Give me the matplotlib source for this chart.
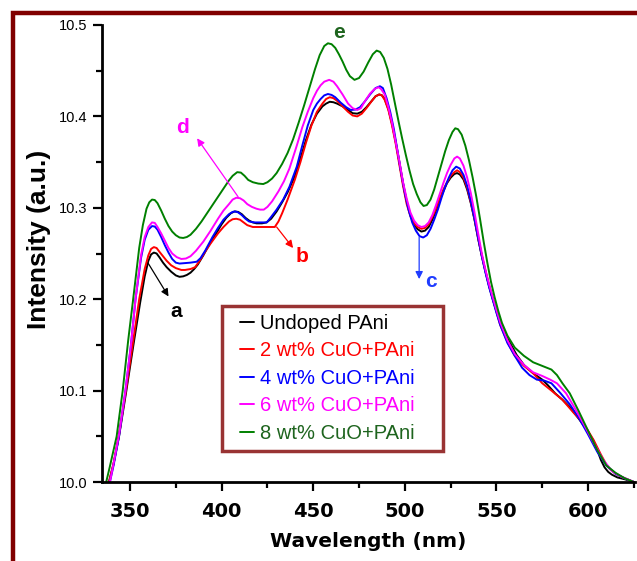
import matplotlib
matplotlib.use('Agg')
import matplotlib.pyplot as plt
from matplotlib.legend_handler import HandlerLine2D
from matplotlib.patches import Rectangle
from matplotlib.ticker import MultipleLocator

# ---------------- data ----------------
wl_undoped = [338.5, 341, 344, 348, 352, 355.5, 358, 360, 361.5, 363, 364.5, 366, 368, 370, 372.5,
              375, 377, 379, 381, 383, 385, 387, 390, 393, 397, 400, 402.5, 405, 407, 409, 411,
              413, 415, 417, 419, 422, 424.5, 427, 430, 433, 436, 440, 443, 446, 449, 452, 455,
              457, 459, 461, 463, 466, 469, 471.5, 474, 476.5, 479, 481.5, 484, 486, 487.5, 489,
              491, 493, 495, 497, 499, 501, 503, 505, 507, 509, 511, 513, 515, 517, 519, 521, 523,
              525, 527, 528.5, 530, 532, 534, 536, 538, 540, 542, 544, 546, 548, 550, 552, 556,
              561, 565, 570, 575, 578, 582, 586, 590, 595, 600, 603, 605, 607, 609, 611, 613, 616,
              620, 625]
int_undoped = [10.0, 10.02, 10.05, 10.10, 10.152, 10.196, 10.225, 10.242, 10.249, 10.251, 10.250,
               10.246, 10.240, 10.235, 10.230, 10.226, 10.2245, 10.225, 10.2265, 10.229, 10.233,
               10.238, 10.248, 10.259, 10.272, 10.282, 10.289, 10.294, 10.296, 10.2955, 10.293,
               10.289, 10.286, 10.284, 10.283, 10.283, 10.284, 10.288, 10.296, 10.306, 10.317,
               10.335, 10.354, 10.374, 10.391, 10.403, 10.411, 10.414, 10.416, 10.4155, 10.414,
               10.411, 10.407, 10.4035, 10.403, 10.405, 10.41, 10.416, 10.422, 10.424, 10.423,
               10.419, 10.408, 10.392, 10.372, 10.35, 10.327, 10.307, 10.292, 10.282, 10.2765,
               10.274, 10.275, 10.279, 10.287, 10.297, 10.308, 10.318, 10.327, 10.333, 10.337,
               10.338, 10.3365, 10.331, 10.32, 10.305, 10.287, 10.266, 10.247, 10.23, 10.214,
               10.200, 10.187, 10.175, 10.157, 10.139, 10.128, 10.119, 10.112, 10.106, 10.097,
               10.09, 10.082, 10.069, 10.055, 10.045, 10.035, 10.024, 10.016, 10.011, 10.008,
               10.005, 10.003, 10.0]

wl_cuo2 = [338.5, 341, 344, 348, 352, 355, 358, 360, 361.5, 363, 364.5, 366, 368, 370, 372.5, 375,
           378, 380, 383, 385.5, 388, 391, 394, 398, 401, 404, 406, 408, 410, 412, 414, 417, 421,
           425, 429, 431, 433, 436, 440, 443, 446, 449, 452, 455, 457, 459, 461, 463, 466, 469,
           471.5, 474, 476.5, 479, 482, 484, 486, 487.5, 489, 491, 493, 495, 497, 499, 501, 503,
           505, 507, 509, 511, 513, 515, 517, 519, 521, 523, 525, 527, 528.5, 530, 532, 534, 536,
           538, 540, 542, 544, 546, 548, 550, 552, 556, 560, 565, 570, 575, 580, 586, 592, 597.5,
           600, 603, 607, 610, 612, 615, 619, 625]
int_cuo2 = [10.0, 10.02, 10.052, 10.103, 10.158, 10.2, 10.233, 10.248, 10.255, 10.257, 10.256,
            10.252, 10.247, 10.242, 10.237, 10.234, 10.232, 10.232, 10.233, 10.235, 10.242,
            10.252, 10.261, 10.272, 10.279, 10.285, 10.2875, 10.288, 10.287, 10.284, 10.281,
            10.279, 10.279, 10.279, 10.279, 10.285, 10.294, 10.309, 10.331, 10.35, 10.371, 10.39,
            10.405, 10.414, 10.419, 10.421, 10.420, 10.417, 10.411, 10.405, 10.401, 10.400,
            10.403, 10.409, 10.417, 10.422, 10.424, 10.423, 10.418, 10.407, 10.39, 10.37, 10.347,
            10.324, 10.304, 10.291, 10.283, 10.279, 10.277, 10.278, 10.282, 10.29, 10.299, 10.31,
            10.32, 10.328, 10.335, 10.339, 10.341, 10.339, 10.333, 10.322, 10.306, 10.288,
            10.267, 10.248, 10.231, 10.215, 10.2, 10.186, 10.172, 10.153, 10.138, 10.127, 10.119,
            10.108, 10.1, 10.09, 10.076, 10.064, 10.056, 10.046, 10.03, 10.019, 10.014, 10.009,
            10.005, 10.0]

wl_cuo4 = [339, 341, 344, 347.5, 350.5, 353, 356, 358, 360, 362, 363.5, 365, 367, 369, 371, 373,
           375, 377, 380, 383, 386.4, 388.5, 391, 395, 398, 401, 404, 406, 407.5, 409, 411, 413,
           415, 418, 421, 424.6, 427, 430, 433.6, 437, 441, 444, 447, 450, 452, 454, 456, 458,
           460, 462, 465, 468, 470.5, 473, 475.5, 478, 481, 484, 486.4, 488, 490, 492, 494, 496,
           498, 500, 502, 504, 506, 508, 510, 512, 514, 516, 518, 520, 522, 524, 526, 528, 530,
           532, 534, 536, 538, 540, 542, 544, 546, 548, 550, 552, 556, 560, 564, 568, 572, 576,
           580, 585, 590, 595, 600, 605, 610, 615, 620, 625]
int_cuo4 = [10.0, 10.018, 10.05, 10.1, 10.15, 10.2, 10.245, 10.265, 10.276, 10.28, 10.2795, 10.276,
            10.268, 10.259, 10.251, 10.244, 10.240, 10.239, 10.2395, 10.240, 10.241, 10.245,
            10.253, 10.268, 10.278, 10.287, 10.293, 10.2955, 10.296, 10.295, 10.292, 10.288,
            10.285, 10.284, 10.284, 10.284, 10.29, 10.298, 10.309, 10.323, 10.345, 10.368, 10.39,
            10.407, 10.414, 10.419, 10.423, 10.4245, 10.4235, 10.421, 10.415, 10.41, 10.407,
            10.4075, 10.41, 10.416, 10.424, 10.431, 10.433, 10.431, 10.42, 10.405, 10.386,
            10.362, 10.338, 10.316, 10.298, 10.284, 10.275, 10.269, 10.2675, 10.27, 10.277,
            10.287, 10.298, 10.311, 10.323, 10.333, 10.341, 10.345, 10.343, 10.336, 10.324,
            10.307, 10.288, 10.267, 10.247, 10.229, 10.213, 10.199, 10.185, 10.172, 10.152,
            10.138, 10.125, 10.117, 10.112, 10.111, 10.108, 10.097, 10.085, 10.07, 10.052,
            10.033, 10.018, 10.009, 10.004, 10.0]

wl_cuo6 = [339, 341, 344, 347.5, 350.5, 353, 356, 358, 360, 362, 363.5, 365, 367, 369, 371, 373,
           375.5, 378, 380.5, 383, 386, 390, 394, 398, 401, 404, 406, 408, 410, 412, 414, 416.5,
           419, 421, 423, 425, 427.5, 431, 434, 437, 441, 444, 447, 450, 452, 454, 456, 458.7,
           461, 463, 466, 469, 471.5, 474, 476, 478, 481, 483.5, 485.5, 487, 489, 491, 493, 495,
           497, 499, 501, 503, 505, 507, 509, 511, 513, 515, 517, 519, 521, 523, 525, 527, 528.5,
           530, 532, 534, 536, 538, 540, 542, 544, 546, 548, 550, 552, 556, 560, 565, 570, 575,
           579.3, 583, 588, 593, 598, 603, 608, 613, 618, 625]
int_cuo6 = [10.0, 10.02, 10.052, 10.1, 10.15, 10.2, 10.248, 10.268, 10.279, 10.284, 10.2835, 10.279,
            10.272, 10.264, 10.256, 10.25, 10.246, 10.244, 10.2445, 10.247, 10.253, 10.263,
            10.275, 10.288, 10.297, 10.304, 10.309, 10.311, 10.3105, 10.308, 10.304, 10.301,
            10.299, 10.298, 10.298, 10.301, 10.307, 10.318, 10.329, 10.343, 10.368, 10.388,
            10.405, 10.42, 10.428, 10.434, 10.438, 10.44, 10.438, 10.433, 10.424, 10.414, 10.409,
            10.407, 10.409, 10.416, 10.425, 10.43, 10.432, 10.43, 10.424, 10.41, 10.393, 10.372,
            10.351, 10.328, 10.31, 10.295, 10.286, 10.281, 10.279, 10.28, 10.284, 10.292, 10.303,
            10.315, 10.327, 10.338, 10.347, 10.354, 10.356, 10.354, 10.346, 10.333, 10.316,
            10.295, 10.272, 10.25, 10.232, 10.216, 10.202, 10.188, 10.175, 10.155, 10.14, 10.128,
            10.12, 10.116, 10.112, 10.108, 10.097, 10.08, 10.062, 10.043, 10.025, 10.012, 10.006,
            10.0]

wl_cuo8 = [337, 339, 342.7, 346, 349, 352, 355, 357, 359, 360.5, 362, 363.5, 365, 367, 369, 371,
           373, 375, 377, 379, 381, 383, 386, 389, 392, 395, 398, 401, 404, 406, 408.5, 410.5,
           412.5, 414.5, 417, 420, 422.7, 425, 427.5, 430, 433, 436, 439, 442, 445, 448, 451,
           453.5, 456, 458, 460, 462, 464, 466, 468, 470, 472.5, 475, 477.5, 480, 482.5, 484.6,
           486.5, 488.5, 490.5, 492.5, 494.5, 496.5, 498.5, 500.5, 502.5, 504.5, 506.5, 508.5,
           510.2, 512, 514, 516, 518, 520, 522, 524, 526, 527.5, 529, 531, 533, 535, 537, 539,
           541, 543, 545, 547, 549, 551, 553, 556, 560, 565, 570, 575, 580, 583, 586, 590, 595,
           600, 605, 610, 615, 620, 625]
int_cuo8 = [10.0, 10.017, 10.05, 10.10, 10.155, 10.205, 10.256, 10.281, 10.299, 10.306, 10.309,
            10.3085, 10.305, 10.297, 10.288, 10.28, 10.274, 10.27, 10.2675, 10.267, 10.268,
            10.2705, 10.277, 10.285, 10.294, 10.303, 10.312, 10.321, 10.33, 10.335, 10.339,
            10.3385, 10.335, 10.3305, 10.328, 10.3265, 10.326, 10.328, 10.332, 10.338, 10.348,
            10.36, 10.375, 10.393, 10.412, 10.432, 10.452, 10.467, 10.477, 10.48, 10.479, 10.475,
            10.468, 10.46, 10.451, 10.444, 10.440, 10.442, 10.449, 10.459, 10.468, 10.472,
            10.4705, 10.464, 10.452, 10.435, 10.415, 10.395, 10.376, 10.358, 10.341, 10.326,
            10.315, 10.306, 10.302, 10.303, 10.309, 10.32, 10.334, 10.348, 10.362, 10.374,
            10.383, 10.387, 10.386, 10.38, 10.368, 10.352, 10.333, 10.312, 10.288, 10.263, 10.24,
            10.219, 10.202, 10.187, 10.174, 10.16, 10.147, 10.138, 10.131, 10.127, 10.123,
            10.117, 10.108, 10.097, 10.077, 10.056, 10.035, 10.018, 10.01, 10.004, 10.0]

labels = ['Undoped PAni', '2 wt% CuO+PAni', '4 wt% CuO+PAni', '6 wt% CuO+PAni', '8 wt% CuO+PAni']
x_ticks = [350, 400, 450, 500, 550, 600]
y_ticks = [10.0, 10.1, 10.2, 10.3, 10.4, 10.5]
y_tick_labels = ['10.0', '10.1', '10.2', '10.3', '10.4', '10.5']

# annotation letters: (letter, arrow tail, arrow head, text position)
annotations = [
    ('a', (360.0, 10.239), (371.0, 10.203), (375.2, 10.186)),
    ('b', (430.0, 10.279), (439.0, 10.256), (443.8, 10.247)),
    ('c', (507.8, 10.268), (507.8, 10.222), (514.3, 10.219)),
    ('d', (409.0, 10.312), (386.6, 10.376), (378.7, 10.388)),
    ('e', None, None, (464.2, 10.492)),
]

# ---------------- styles ----------------
line_colors = ['#000000', '#ff0000', '#0000ff', '#ff00ff', '#008000']
text_colors = ['#000000', '#ff0000', '#0000ff', '#ff00ff', '#1e641e']
annot_colors = {'a': '#000000', 'b': '#ff0000', 'c': '#1f3cff', 'd': '#ff00ff', 'e': '#1e641e'}
frame_red = '#800000'

W, H = 637, 561
fig = plt.figure(figsize=(W / 100, H / 100), dpi=100)
fig.patch.set_facecolor('white')

ax = fig.add_axes([102 / W, 1 - 482 / H, 533 / W, 457 / H])

series = [(wl_undoped, int_undoped), (wl_cuo2, int_cuo2), (wl_cuo4, int_cuo4),
          (wl_cuo6, int_cuo6), (wl_cuo8, int_cuo8)]
lines = []
for (wl, it), col, lab in zip(series, line_colors, labels):
    ln, = ax.plot(wl, it, color=col, lw=1.4, label=lab, solid_joinstyle='round',
                  solid_capstyle='round')
    lines.append(ln)

ax.set_xlim(334.7, 625.6)
ax.set_ylim(10.0, 10.5)

for s in ['top', 'right']:
    ax.spines[s].set_visible(False)
for s in ['left', 'bottom']:
    ax.spines[s].set_linewidth(2.0)
    ax.spines[s].set_color('black')

ax.set_xticks(x_ticks)
ax.set_xticklabels([str(v) for v in x_ticks], fontfamily='DejaVu Sans',
                   fontweight='bold', fontsize=14)
ax.set_yticks(y_ticks)
ax.set_yticklabels(y_tick_labels, fontfamily='Liberation Sans', fontsize=10.5)
ax.xaxis.set_minor_locator(MultipleLocator(25))
ax.yaxis.set_minor_locator(MultipleLocator(0.05))
ax.tick_params(axis='both', which='major', direction='out', length=6.5, width=1.6, color='black')
ax.tick_params(axis='both', which='minor', direction='out', length=4, width=1.6, color='black')
ax.tick_params(axis='x', which='major', pad=8)
ax.tick_params(axis='y', which='major', pad=4)

ax.set_xlabel('Wavelength (nm)', fontfamily='DejaVu Sans', fontweight='bold', fontsize=14.5,
              labelpad=8)
ax.set_ylabel('Intensity (a.u.)', fontfamily='Liberation Sans', fontweight='bold', fontsize=19)
ax.yaxis.set_label_coords(-0.095, 0.532)

# annotations
for letter, tail, head, tpos in annotations:
    c = annot_colors[letter]
    if tail is not None:
        ax.annotate('', xy=head, xytext=tail,
                    arrowprops=dict(arrowstyle='-|>', color=c, lw=0.9,
                                    mutation_scale=11, shrinkA=0, shrinkB=0))
    ax.text(tpos[0], tpos[1], letter, color=c, fontfamily='Liberation Sans',
            fontweight='bold', fontsize=15, ha='center', va='center')

# legend
leg = ax.legend(handles=lines, loc='lower left', bbox_to_anchor=(0.225, 0.068, 0.415, 0.31),
                mode='expand', borderaxespad=0, frameon=True, fancybox=False,
                prop={'family': 'Liberation Sans', 'size': 14.5},
                handlelength=1.2, handletextpad=0.3, labelspacing=0.42, borderpad=0.4,
                handler_map={l: HandlerLine2D(xpad=0.5) for l in lines})
leg.get_frame().set_edgecolor(frame_red)
leg.get_frame().set_linewidth(2.5)
for txt, col in zip(leg.get_texts(), text_colors):
    txt.set_color(col)

# outer dark red frame (left and top visible)
fig.patches.append(Rectangle((12.5 / W, -0.05), 1.2, (1 - 13 / H) + 0.05,
                             transform=fig.transFigure, fill=False,
                             edgecolor=frame_red, lw=3.2))

fig.savefig('out.png', dpi=100, facecolor='white')
